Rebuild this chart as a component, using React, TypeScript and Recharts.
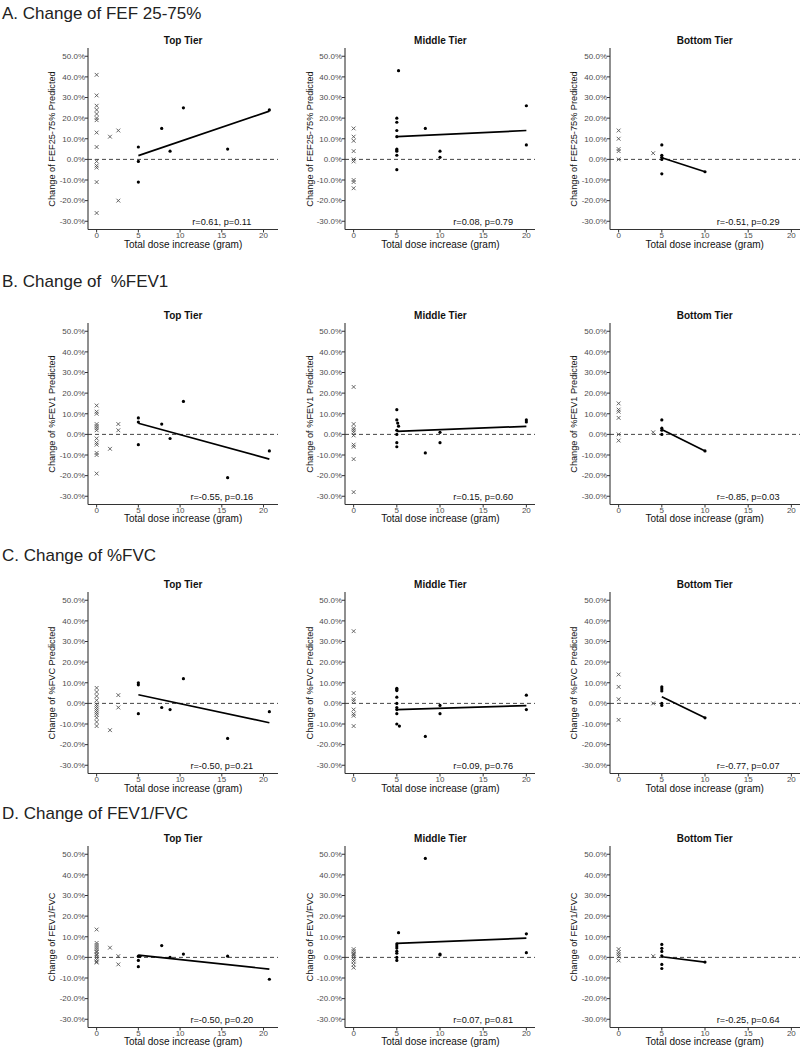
import { ScatterChart, Scatter, XAxis, YAxis, ReferenceLine, ReferenceDot } from "recharts";

type P = [number, number];

// ---- data: [dose increase (g), change %] ----
const yTicks = [-30, -20, -10, 0, 10, 20, 30, 40, 50];
const xTicks = [0, 5, 10, 15, 20];
const tiers = ["Top Tier", "Middle Tier", "Bottom Tier"];
const rowTitles = ["A. Change of FEF 25-75%", "B. Change of  %FEV1", "C. Change of %FVC", "D. Change of FEV1/FVC"];
const yLabels = ["Change of FEF25-75% Predicted", "Change of %FEV1 Predicted", "Change of %FVC Predicted", "Change of FEV1/FVC"];

// A. FEF 25-75
const fefTopCross: P[] = [[0, 41], [0, 31], [0, 26], [0, 24], [0, 22], [0, 20], [0, 19], [0, 13], [0, 6], [0, -1], [0, -3], [0, -4], [0, -11], [0, -26], [1.6, 11], [2.6, 14], [2.6, -20]];
const fefTopDot: P[] = [[5, 6], [5, -1], [5, -11], [7.8, 15], [8.8, 4], [10.4, 25], [15.7, 5], [20.7, 24]];
const fefTopFit: P[] = [[5, 1.8], [20.7, 23.4]];
const fefMidCross: P[] = [[0, 15], [0, 11], [0, 9], [0, 4], [0, 0], [0, -1], [0, -10], [0, -11], [0, -14]];
const fefMidDot: P[] = [[5, 20], [5, 18], [5, 14], [5, 11], [5, 5], [5, 4.5], [5, 4], [5, 2], [5, -5], [5.2, 43], [8.3, 15], [10, 4], [10, 1], [20, 26], [20, 7]];
const fefMidFit: P[] = [[5, 11], [20, 14]];
const fefBotCross: P[] = [[0, 14], [0, 10], [0, 5], [0, 4], [0, 0], [4, 3]];
const fefBotDot: P[] = [[5, 7], [5, 2], [5, 1], [5, 0], [5, -7], [10, -6]];
const fefBotFit: P[] = [[5, 0.8], [10, -6]];

// B. %FEV1
const fev1TopCross: P[] = [[0, 14], [0, 11], [0, 10], [0, 5], [0, 4], [0, 3], [0, 2], [0, -2], [0, -4], [0, -5], [0, -9], [0, -10], [0, -19], [1.6, -7], [2.6, 5], [2.6, 2]];
const fev1TopDot: P[] = [[5, 8], [5, 6], [5, -5], [7.8, 5], [8.8, -2], [10.4, 16], [15.7, -21], [20.7, -8]];
const fev1TopFit: P[] = [[5, 5.4], [20.7, -12]];
const fev1MidCross: P[] = [[0, 23], [0, 5], [0, 3], [0, 2], [0, 1], [0, -0.5], [0, -5], [0, -6], [0, -12], [0, -28]];
const fev1MidDot: P[] = [[5, 12], [5, 7], [5.1, 5.5], [5.2, 4], [5, 2], [5, 0], [5, -4], [5, -6], [8.3, -9], [10, 1], [10, -4], [20, 7], [20, 6]];
const fev1MidFit: P[] = [[5, 1.5], [20, 3.9]];
const fev1BotCross: P[] = [[0, 15], [0, 12], [0, 11], [0, 8], [0, 0], [0, -3], [4, 1]];
const fev1BotDot: P[] = [[5, 7], [5, 3], [5, 2], [5, 0], [10, -8]];
const fev1BotFit: P[] = [[5, 2.4], [10, -8.1]];

// C. %FVC
const fvcTopCross: P[] = [[0, 7.5], [0, 5.5], [0, 3.5], [0, 1.5], [0, -0.5], [0, -1.5], [0, -2.5], [0, -3.5], [0, -4.5], [0, -5.5], [0, -7], [0, -9], [0, -11], [1.6, -13], [2.6, 4], [2.6, -2]];
const fvcTopDot: P[] = [[5, 10], [5, 9], [5, -5], [7.8, -2], [8.8, -3], [10.4, 12], [15.7, -17], [20.7, -4]];
const fvcTopFit: P[] = [[5, 4.2], [20.7, -9.4]];
const fvcMidCross: P[] = [[0, 35], [0, 5], [0, 2], [0, 1], [0, -3], [0, -5], [0, -6], [0, -11]];
const fvcMidDot: P[] = [[5, 7.3], [5, 6.7], [5, 6.2], [5, 3], [5, 0], [5, -2], [5, -3], [5, -5], [5, -10], [5.3, -11], [8.3, -16], [10, -1], [10, -5], [20, 4], [20, -3]];
const fvcMidFit: P[] = [[5, -3], [20, -1.1]];
const fvcBotCross: P[] = [[0, 14], [0, 8], [0, 2], [0, -8], [4, 0]];
const fvcBotDot: P[] = [[5, 8], [5, 7], [5, 6], [5, 0], [5, -1], [10, -7]];
const fvcBotFit: P[] = [[5, 3.2], [10, -7]];

// D. FEV1/FVC
const ratioTopCross: P[] = [[0, 13.5], [0, 7], [0, 6], [0, 5], [0, 4], [0, 3], [0, 2.5], [0, 1.5], [0, 1], [0, 0], [0, -1], [0, -2], [0, -2.5], [1.6, 4.7], [2.6, 0.6], [2.6, -3.4]];
const ratioTopDot: P[] = [[5, 0.6], [5.2, 0.5], [5, -1.5], [5, -4.5], [7.8, 5.7], [8.8, 0], [10.4, 1.6], [15.7, 0.6], [20.7, -10.6]];
const ratioTopFit: P[] = [[5, 1.1], [20.7, -5.7]];
const ratioMidCross: P[] = [[0, 4], [0, 3], [0, 2], [0, 1.5], [0, 1], [0, 0], [0, -1], [0, -2], [0, -3.5], [0, -5]];
const ratioMidDot: P[] = [[5.2, 12], [5, 6.5], [5, 5.5], [5, 4.5], [5, 3], [5, 2], [5, 0], [5, -1.5], [8.3, 48], [10, 1.6], [10, 1.2], [20, 11.4], [20, 2.3]];
const ratioMidFit: P[] = [[5, 6.8], [20, 9.3]];
const ratioBotCross: P[] = [[0, 4], [0, 2.5], [0, 1.5], [0, 0.5], [0, -1.5], [4, 0.6]];
const ratioBotDot: P[] = [[5, 6.3], [5, 4.4], [5, 2.9], [5, 0.8], [5, -3.4], [5, -5.4], [10, -2.3]];
const ratioBotFit: P[] = [[5, 0.3], [10, -2.3]];

const notes = [
  ["r=0.61, p=0.11", "r=0.08, p=0.79", "r=-0.51, p=0.29"],
  ["r=-0.55, p=0.16", "r=0.15, p=0.60", "r=-0.85, p=0.03"],
  ["r=-0.50, p=0.21", "r=0.09, p=0.76", "r=-0.77, p=0.07"],
  ["r=-0.50, p=0.20", "r=0.07, p=0.81", "r=-0.25, p=0.64"],
];

const panels: [P[], P[], P[]][][] = [
  [[fefTopCross, fefTopDot, fefTopFit], [fefMidCross, fefMidDot, fefMidFit], [fefBotCross, fefBotDot, fefBotFit]],
  [[fev1TopCross, fev1TopDot, fev1TopFit], [fev1MidCross, fev1MidDot, fev1MidFit], [fev1BotCross, fev1BotDot, fev1BotFit]],
  [[fvcTopCross, fvcTopDot, fvcTopFit], [fvcMidCross, fvcMidDot, fvcMidFit], [fvcBotCross, fvcBotDot, fvcBotFit]],
  [[ratioTopCross, ratioTopDot, ratioTopFit], [ratioMidCross, ratioMidDot, ratioMidFit], [ratioBotCross, ratioBotDot, ratioBotFit]],
];

// ---- layout ----
const FONT = "'Liberation Sans', Arial, sans-serif";
const rowTop = [48.4, 322.8, 592.4, 845.8];
const rowTitleTop = [5, 273, 547, 805];
const colLeft = [88.1, 345.4, 609.7];
const xDomains: [number, number][] = [[-1.035, 21.735], [-1, 21], [-1, 21]];
const ML = 46, MT = 4, MR = 6, MB = 22;
const PW = 190, PH = 181.5;

const toPts = (a: P[]) => a.map(([x, y]) => ({ x, y }));

const Cross = (p: any) => {
  const { cx, cy } = p;
  const s = 1.9;
  return (
    <path
      d={`M${cx - s},${cy - s}L${cx + s},${cy + s}M${cx - s},${cy + s}L${cx + s},${cy - s}`}
      stroke="#555"
      strokeWidth={0.9}
      fill="none"
    />
  );
};
const Dot = (p: any) => <circle cx={p.cx} cy={p.cy} r={1.6} fill="#000" />;
const NoShape = () => <g />;

function Panel({ row, col }: { row: number; col: number }) {
  const [cross, dot, fit] = panels[row][col];
  const W = ML + PW + MR;
  const H = MT + PH + MB;
  return (
    <div style={{ position: "absolute", left: colLeft[col] - ML, top: rowTop[row] - MT, width: W, height: H }}>
      <ScatterChart width={W} height={H} margin={{ top: MT, right: MR, bottom: 0, left: 0 }}>
        <XAxis
          type="number"
          dataKey="x"
          domain={xDomains[col]}
          ticks={xTicks}
          interval={0}
          allowDataOverflow
          height={MB}
          tickSize={3}
          tickMargin={0}
          tick={{ fontSize: 8, fill: "#4d4d4d", fontFamily: FONT }}
          axisLine={{ stroke: "#333", strokeWidth: 1.1 }}
          tickLine={{ stroke: "#333" }}
        />
        <YAxis
          type="number"
          dataKey="y"
          domain={[-34, 54]}
          ticks={yTicks}
          interval={0}
          allowDataOverflow
          width={ML}
          tickSize={3}
          tickMargin={0}
          tickFormatter={(v: number) => `${v.toFixed(1)}%`}
          tick={{ fontSize: 8, fill: "#4d4d4d", fontFamily: FONT }}
          axisLine={{ stroke: "#333", strokeWidth: 1.1 }}
          tickLine={{ stroke: "#333" }}
        />
        <ReferenceLine y={0} stroke="#444" strokeDasharray="4 3" strokeWidth={1} />
        <Scatter data={toPts(cross)} shape={Cross} isAnimationActive={false} />
        <Scatter data={toPts(dot)} shape={Dot} isAnimationActive={false} />
        <Scatter
          data={toPts(fit)}
          shape={NoShape}
          line={{ stroke: "#000", strokeWidth: 1.7 }}
          isAnimationActive={false}
        />
        <ReferenceDot
          x={15}
          y={-30}
          r={0}
          stroke="none"
          label={{ value: notes[row][col], position: "center", fontSize: 9.2, fill: "#111", fontFamily: FONT }}
        />
      </ScatterChart>
      <div
        style={{
          position: "absolute",
          left: ML + PW / 2,
          top: MT - 7.3,
          transform: "translate(-50%, -50%)",
          fontSize: 10,
          lineHeight: 1,
          fontWeight: "bold",
          whiteSpace: "nowrap",
          color: "#111",
        }}
      >
        {tiers[col]}
      </div>
      <div
        style={{
          position: "absolute",
          left: ML + PW / 2,
          top: MT + PH + 15.2,
          transform: "translate(-50%, -50%)",
          fontSize: 10,
          lineHeight: 1,
          whiteSpace: "nowrap",
          color: "#111",
        }}
      >
        Total dose increase (gram)
      </div>
      <div
        style={{
          position: "absolute",
          left: ML - 34.8,
          top: MT + PH / 2,
          transform: "translate(-50%, -50%) rotate(-90deg)",
          fontSize: 9.2,
          lineHeight: 1,
          whiteSpace: "nowrap",
          color: "#111",
        }}
      >
        {yLabels[row]}
      </div>
    </div>
  );
}

export default function App() {
  return (
    <div
      style={{
        position: "absolute",
        left: 0,
        top: 0,
        width: 804,
        height: 1050,
        background: "#fff",
        overflow: "hidden",
        fontFamily: FONT,
      }}
    >
      {rowTitles.map((t, r) => (
        <div
          key={t}
          style={{
            position: "absolute",
            left: 2,
            top: rowTitleTop[r],
            fontSize: 17,
            lineHeight: "17px",
            whiteSpace: "pre",
            color: "#222",
          }}
        >
          {t}
        </div>
      ))}
      {rowTitles.map((_, r) =>
        tiers.map((_, c) => <Panel key={`${r}-${c}`} row={r} col={c} />)
      )}
    </div>
  );
}
